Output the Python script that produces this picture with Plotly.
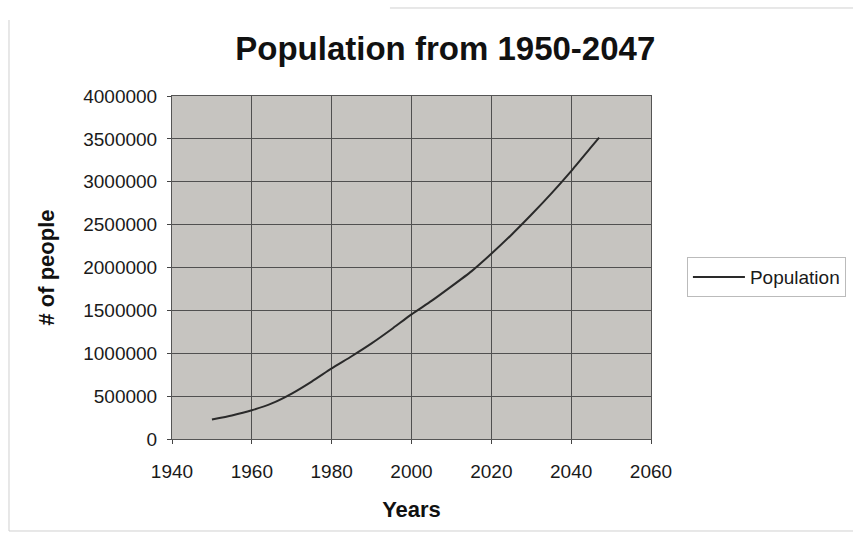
import plotly.graph_objects as go

# Population series (read at 5-year steps, plus the final year)
years = [1950, 1955, 1960, 1965, 1970, 1975, 1980, 1985, 1990, 1995, 2000,
         2005, 2010, 2015, 2020, 2025, 2030, 2035, 2040, 2045, 2047]
population = [227000, 275000, 335000, 415000, 530000, 670000, 823000, 965000,
              1115000, 1280000, 1454000, 1610000, 1780000, 1955000, 2160000,
              2380000, 2615000, 2862000, 3125000, 3405000, 3515000]

x_ticks = [1940, 1960, 1980, 2000, 2020, 2040, 2060]
y_ticks = [0, 500000, 1000000, 1500000, 2000000, 2500000, 3000000, 3500000, 4000000]

font = "Liberation Sans, Arial, sans-serif"

fig = go.Figure()
fig.add_trace(go.Scatter(
    x=years, y=population, mode="lines", name="Population",
    line=dict(color="#2a2a2a", width=2, shape="spline", smoothing=0.5),
))

fig.update_layout(
    width=853, height=539,
    paper_bgcolor="white",
    plot_bgcolor="#c6c4c0",
    margin=dict(l=172, r=202, t=96, b=100, autoexpand=False),
    title=dict(text="<b>Population from 1950-2047</b>", xref="container",
               x=0.522, xanchor="center", y=0.91, yanchor="middle",
               font=dict(family=font, size=33, color="#111111")),
    font=dict(family=font, size=19, color="#1a1a1a"),
    showlegend=True,
    legend=dict(x=1.075, y=0.472, xanchor="left", yanchor="middle",
                bgcolor="white", bordercolor="#bbbbbb", borderwidth=1,
                font=dict(family=font, size=19, color="#1a1a1a"),
                itemwidth=52),
    xaxis=dict(
        range=[1940, 2060], tickvals=x_ticks, ticktext=[str(v) for v in x_ticks],
        showgrid=True, gridcolor="#505050", gridwidth=1,
        ticks="outside", ticklen=4, tickcolor="#444444",
        showline=True, linecolor="#555555", linewidth=1, mirror=True,
        zeroline=False, ticklabelstandoff=11,
        title=dict(text="<b>Years</b>", font=dict(family=font, size=22, color="#111111"),
                   standoff=20),
        tickfont=dict(family=font, size=19, color="#1a1a1a"),
    ),
    yaxis=dict(
        range=[0, 4000000], tickvals=y_ticks, ticktext=[str(v) for v in y_ticks],
        showgrid=True, gridcolor="#505050", gridwidth=1,
        ticks="outside", ticklen=4, tickcolor="#444444",
        showline=True, linecolor="#555555", linewidth=1, mirror=True,
        zeroline=False, ticklabelstandoff=6,
        title=dict(text="<b># of people</b>", font=dict(family=font, size=22, color="#111111"),
                   standoff=22),
        tickfont=dict(family=font, size=19, color="#1a1a1a"),
    ),
)

# Thin outer frame of the chart sheet
frame = dict(type="line", xref="paper", yref="paper", line=dict(color="#d0d0d0", width=1))
fig.add_shape(**frame, x0=-0.3403, x1=-0.3403, y0=-0.2682, y1=1.2216)
fig.add_shape(**frame, x0=-0.3403, x1=1.4217, y0=-0.2682, y1=-0.2682)
fig.add_shape(**frame, x0=0.455, x1=1.4217, y0=1.2566, y1=1.2566)

fig.write_html("out.html")
